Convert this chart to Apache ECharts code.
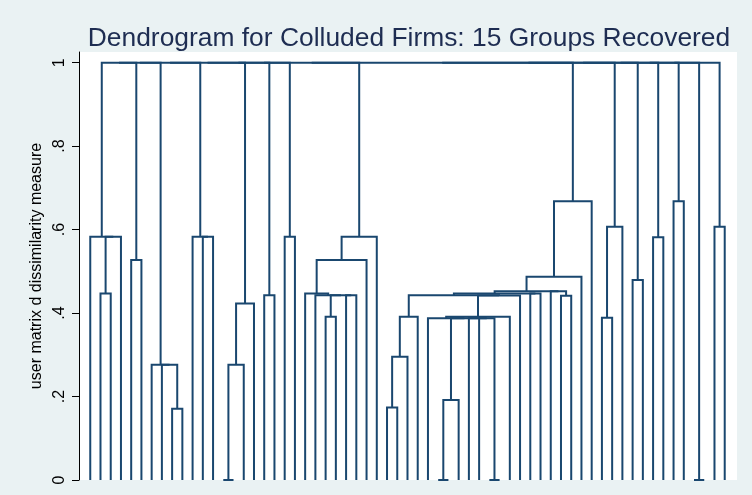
<!DOCTYPE html>
<html>
<head>
<meta charset="utf-8">
<script src="https://cdn.jsdelivr.net/npm/echarts@6/dist/echarts.min.js"></script>
<style>
  html, body { margin: 0; padding: 0; background: #eaf2f3; }
  #chart { width: 752px; height: 495px; }
</style>
</head>
<body>
<div id="chart"></div>
<script>
// Leaves are numbered 0..62 in display order; merged clusters take ids 63, 64, ...
const leafCount = 63;

// Linkage table: row k joins mergeLeft[k] and mergeRight[k] at mergeHeight[k]
const mergeLeft = [
  1, 63, 0,            // group 1
  4,                   // group 2
  8, 7, 6,             // group 3
  11, 10,              // group 4
  13, 72, 73,          // group 5
  17,                  // group 6
  19,                  // group 7
  23, 25, 77, 22, 21, 81, 82,                                   // group 8
  29, 84, 85, 34, 87, 39, 38, 37, 88, 33, 93, 94, 86, 43, 96,   // group 9
  46, 45, 98, 101, 102,
  50, 104,             // group 10
  53,                  // group 11
  55,                  // group 12
  57,                  // group 13
  59,                  // group 14
  61,                  // group 15
  65, 111, 112, 113, 114, 115, 116, 117, 118, 119, 120, 121, 122, 123
];
const mergeRight = [
  2, 3, 64,
  5,
  9, 67, 68,
  12, 70,
  14, 15, 16,
  18,
  20,
  24, 26, 78, 79, 80, 27, 28,
  30, 31, 32, 35, 36, 40, 89, 90, 91, 92, 41, 42, 95, 44, 97,
  47, 99, 100, 48, 49,
  51, 52,
  54,
  56,
  58,
  60,
  62,
  66, 69, 71, 74, 75, 76, 83, 103, 105, 106, 107, 108, 109, 110
];
const mergeHeight = [
  0.447, 0.583, 0.583,
  0.527,
  0.171, 0.276, 0.276,
  0.583, 0.583,
  0, 0.276, 0.423,
  0.4425,
  0.583,
  0.391, 0.4425, 0.4425, 0.4425, 0.447, 0.527, 0.583,
  0.174, 0.2955, 0.391, 0, 0.1917, 0, 0.3875, 0.3875, 0.3875, 0.3875, 0.391, 0.442, 0.443, 0.447, 0.447,
  0.4417, 0.452, 0.452, 0.487, 0.668,
  0.389, 0.607,
  0.479,
  0.5816,
  0.668,
  0,
  0.607,
  1, 1, 1, 1, 1, 1, 1, 1, 1, 1, 1, 1, 1, 1
];

const yTickValues = [0, 0.2, 0.4, 0.6, 0.8, 1];
const yTickLabels = ['0', '.2', '.4', '.6', '.8', '1'];
const titleText = 'Dendrogram for Colluded Firms: 15 Groups Recovered';
const yAxisTitle = 'user matrix d dissimilarity measure';

// Leaves sit at x = 1..leafCount; each cluster is placed midway between its two children
const nodeX = [];
const nodeH = [];
for (let i = 0; i < leafCount; i++) { nodeX.push(i + 1); nodeH.push(0); }

const links = [];
mergeLeft.forEach((a, k) => {
  const b = mergeRight[k];
  const h = mergeHeight[k];
  links.push({
    coords: [[nodeX[a], nodeH[a]], [nodeX[a], h], [nodeX[b], h], [nodeX[b], nodeH[b]]]
  });
  nodeX.push((nodeX[a] + nodeX[b]) / 2);
  nodeH.push(h);
});

const chart = echarts.init(document.getElementById('chart'), null, { renderer: 'canvas' });
chart.setOption({
  backgroundColor: '#eaf2f3',
  animation: false,
  title: {
    text: titleText,
    left: 404,
    textAlign: 'center',
    top: 21,
    textStyle: {
      fontFamily: 'Liberation Sans, Arial, sans-serif',
      fontSize: 26.4,
      fontWeight: 'normal',
      color: '#1e2d52'
    }
  },
  grid: {
    left: 79,
    top: 52,
    width: 658,
    height: 428,
    show: true,
    backgroundColor: '#ffffff',
    borderWidth: 0
  },
  xAxis: {
    type: 'value',
    min: -0.1,
    max: 64.2,
    show: false
  },
  yAxis: {
    type: 'value',
    min: 0,
    max: 1.0256,
    name: yAxisTitle,
    nameLocation: 'middle',
    nameRotate: 90,
    nameGap: 31,
    nameTextStyle: {
      fontFamily: 'Liberation Sans, Arial, sans-serif',
      fontSize: 16,
      color: '#000'
    },
    axisLine: { show: true, onZero: false, lineStyle: { color: '#000', width: 1 } },
    axisTick: {
      show: true,
      length: 7,
      customValues: yTickValues,
      lineStyle: { color: '#000', width: 1 }
    },
    axisLabel: {
      customValues: yTickValues,
      rotate: 90,
      margin: 11,
      fontFamily: 'Liberation Sans, Arial, sans-serif',
      fontSize: 16,
      color: '#000',
      formatter: (v) => {
        const i = yTickValues.findIndex((t) => Math.abs(t - v) < 1e-9);
        return i >= 0 ? yTickLabels[i] : '';
      }
    },
    splitLine: { show: false }
  },
  series: [{
    type: 'lines',
    coordinateSystem: 'cartesian2d',
    polyline: true,
    silent: true,
    lineStyle: { color: '#1a476f', width: 2, opacity: 1 },
    data: links
  }]
});
</script>
</body>
</html>
